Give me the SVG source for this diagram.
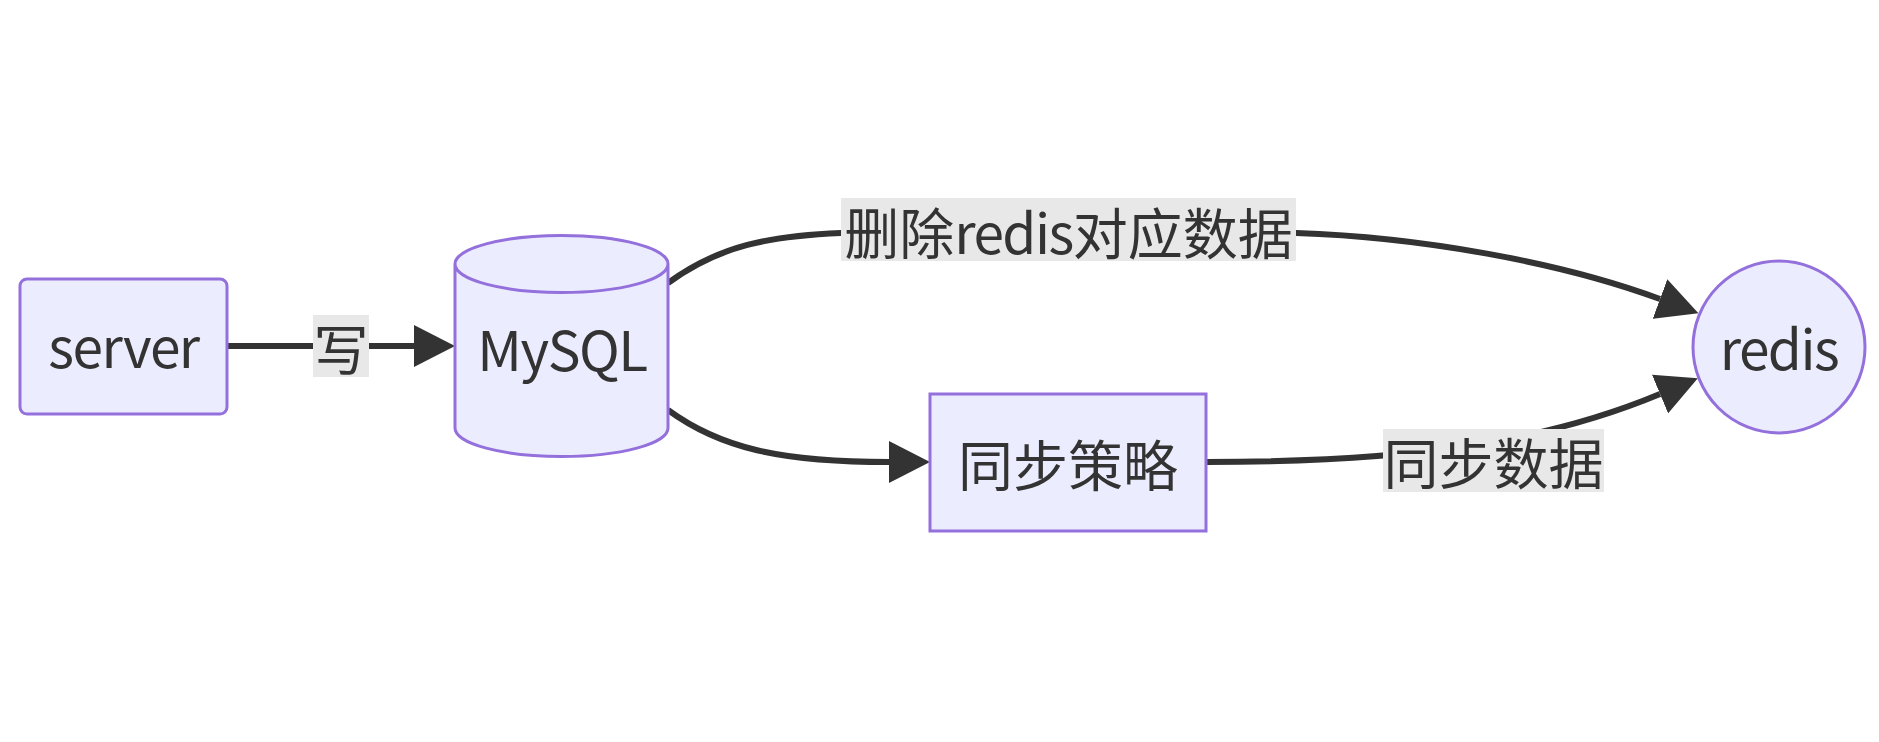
<svg xmlns="http://www.w3.org/2000/svg" width="1879" height="742" viewBox="0 0 1879 742">
<defs>
<style>
.node{fill:#ECECFF;stroke:#9370DB;stroke-width:3}
.edge{fill:none;stroke:#333333;stroke-width:6}
.lbl{fill:#e8e8e8}
.t{font-family:"Noto Sans CJK SC","Noto Sans",sans-serif;font-size:55px;fill:#333333;text-anchor:middle;dominant-baseline:central}
.lat{letter-spacing:-1.5px}
</style>
<marker id="arr" viewBox="0 0 10 10" refX="0" refY="5" markerWidth="41" markerHeight="42" markerUnits="userSpaceOnUse" orient="auto" preserveAspectRatio="none">
<path d="M0,0 L10,5 L0,10 z" fill="#333333"/>
</marker>
</defs>
<rect width="1879" height="742" fill="#ffffff"/>
<g id="connectors">
<path class="edge" d="M226,346 L414,346" marker-end="url(#arr)"/>
<path class="edge" d="M668,283 C720,245 770,236 841,233 L1296,233 C1420,237 1560,262 1660,299" marker-end="url(#arr)"/>
<path class="edge" d="M668,410 C720,448 780,462 889,462" marker-end="url(#arr)"/>
<path class="edge" d="M1206,462 C1420,462 1550,440 1660,394" marker-end="url(#arr)"/>
</g>
<g id="labels">
<g id="label-write"><rect class="lbl" x="313" y="315" width="56" height="62"/><text class="t" x="341" y="346">写</text></g>
<g id="label-delete"><rect class="lbl" x="841" y="198" width="455" height="63"/><text class="t" x="1068.5" y="230">删除<tspan class="lat">redis</tspan>对应数据</text></g>
<g id="label-sync"><rect class="lbl" x="1383" y="429" width="221" height="63"/><text class="t" x="1493.5" y="460">同步数据</text></g>
</g>
<g id="node-server"><rect class="node" x="20" y="279" width="207" height="135" rx="7"/><text class="t lat" x="123.5" y="344">server</text></g>
<g id="node-mysql"><path class="node" d="M455,264 a106.5,28.5 0 0 0 213,0 a106.5,28.5 0 0 0 -213,0 l0,164 a106.5,28.5 0 0 0 213,0 l0,-164"/><text class="t lat" x="562" y="347">MySQL</text></g>
<g id="node-sync"><rect class="node" x="930" y="394" width="276" height="137"/><text class="t" x="1068" y="462">同步策略</text></g>
<g id="node-redis"><circle class="node" cx="1779" cy="347" r="86"/><text class="t lat" x="1779" y="346">redis</text></g>
</svg>
